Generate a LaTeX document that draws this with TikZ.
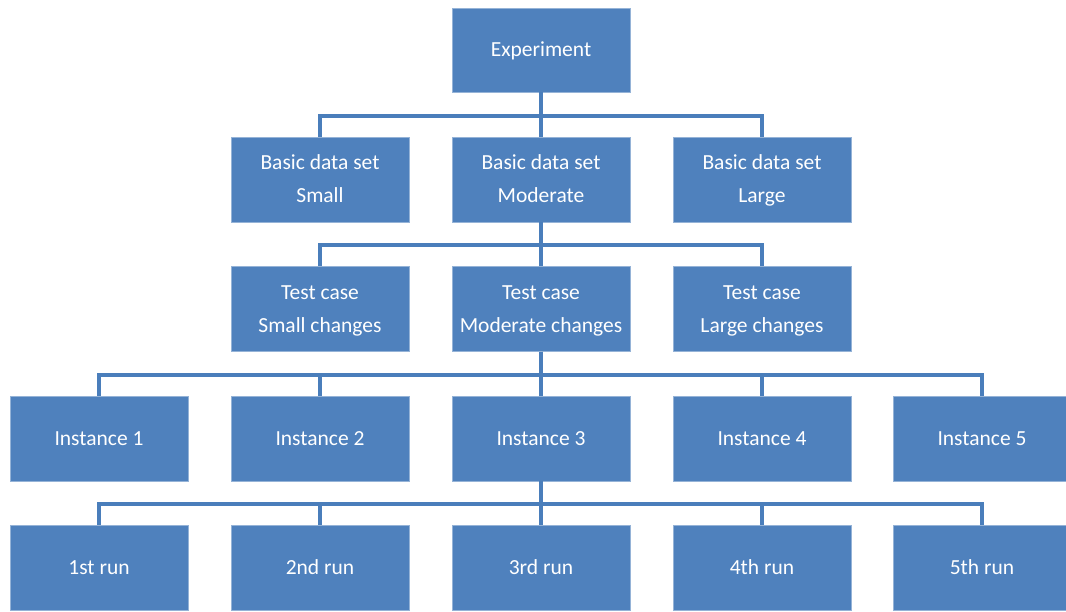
\documentclass[tikz,border=0pt]{standalone}
\usepackage{fontspec}
\setmainfont{Carlito}
\definecolor{boxblue}{HTML}{4F81BD}
\definecolor{linkblue}{HTML}{4A7EBB}
\begin{document}
\begin{tikzpicture}[x=1pt,y=-1pt,
  orgbox/.style={rectangle,fill=boxblue,draw=boxblue!60!white,line width=0.6pt,
    minimum width=178pt,minimum height=85pt,inner sep=0pt,
    text=white,align=center,font=\fontsize{21.5}{33}\selectfont},
  link/.style={draw=linkblue,line width=4pt,line join=miter}]
\useasboundingbox (0,0) rectangle (1066,611);

% level 1
\node[orgbox,minimum height=84pt] (exp) at (541,50) {\strut Experiment};
% level 2: basic data sets
\node[orgbox] (bs) at (320,179.5) {\strut Basic data set\\\strut Small};
\node[orgbox] (bm) at (541,179.5) {\strut Basic data set\\\strut Moderate};
\node[orgbox] (bl) at (762,179.5) {\strut Basic data set\\\strut Large};
% level 3: test cases
\node[orgbox] (ts) at (320,309) {\strut Test case\\\strut Small changes};
\node[orgbox] (tm) at (541,309) {\strut Test case\\\strut Moderate changes};
\node[orgbox] (tl) at (762,309) {\strut Test case\\\strut Large changes};
% level 4: instances
\node[orgbox] (i1) at (99,438.5) {\strut Instance 1};
\node[orgbox] (i2) at (320,438.5) {\strut Instance 2};
\node[orgbox] (i3) at (541,438.5) {\strut Instance 3};
\node[orgbox] (i4) at (762,438.5) {\strut Instance 4};
\node[orgbox] (i5) at (982,438.5) {\strut Instance 5};
% level 5: runs
\node[orgbox] (r1) at (99,568) {\strut 1st run};
\node[orgbox] (r2) at (320,568) {\strut 2nd run};
\node[orgbox] (r3) at (541,568) {\strut 3rd run};
\node[orgbox] (r4) at (762,568) {\strut 4th run};
\node[orgbox] (r5) at (982,568) {\strut 5th run};

% elbow connectors
\foreach \c in {bs,bm,bl} \draw[link] (exp.south) -- ++(0,23.5) -| (\c.north);
\foreach \c in {ts,tm,tl} \draw[link] (bm.south) -- ++(0,23) -| (\c.north);
\foreach \c in {i1,i2,i3,i4,i5} \draw[link] (tm.south) -- ++(0,23.5) -| (\c.north);
\foreach \c in {r1,r2,r3,r4,r5} \draw[link] (i3.south) -- ++(0,22.5) -| (\c.north);
\end{tikzpicture}
\end{document}
